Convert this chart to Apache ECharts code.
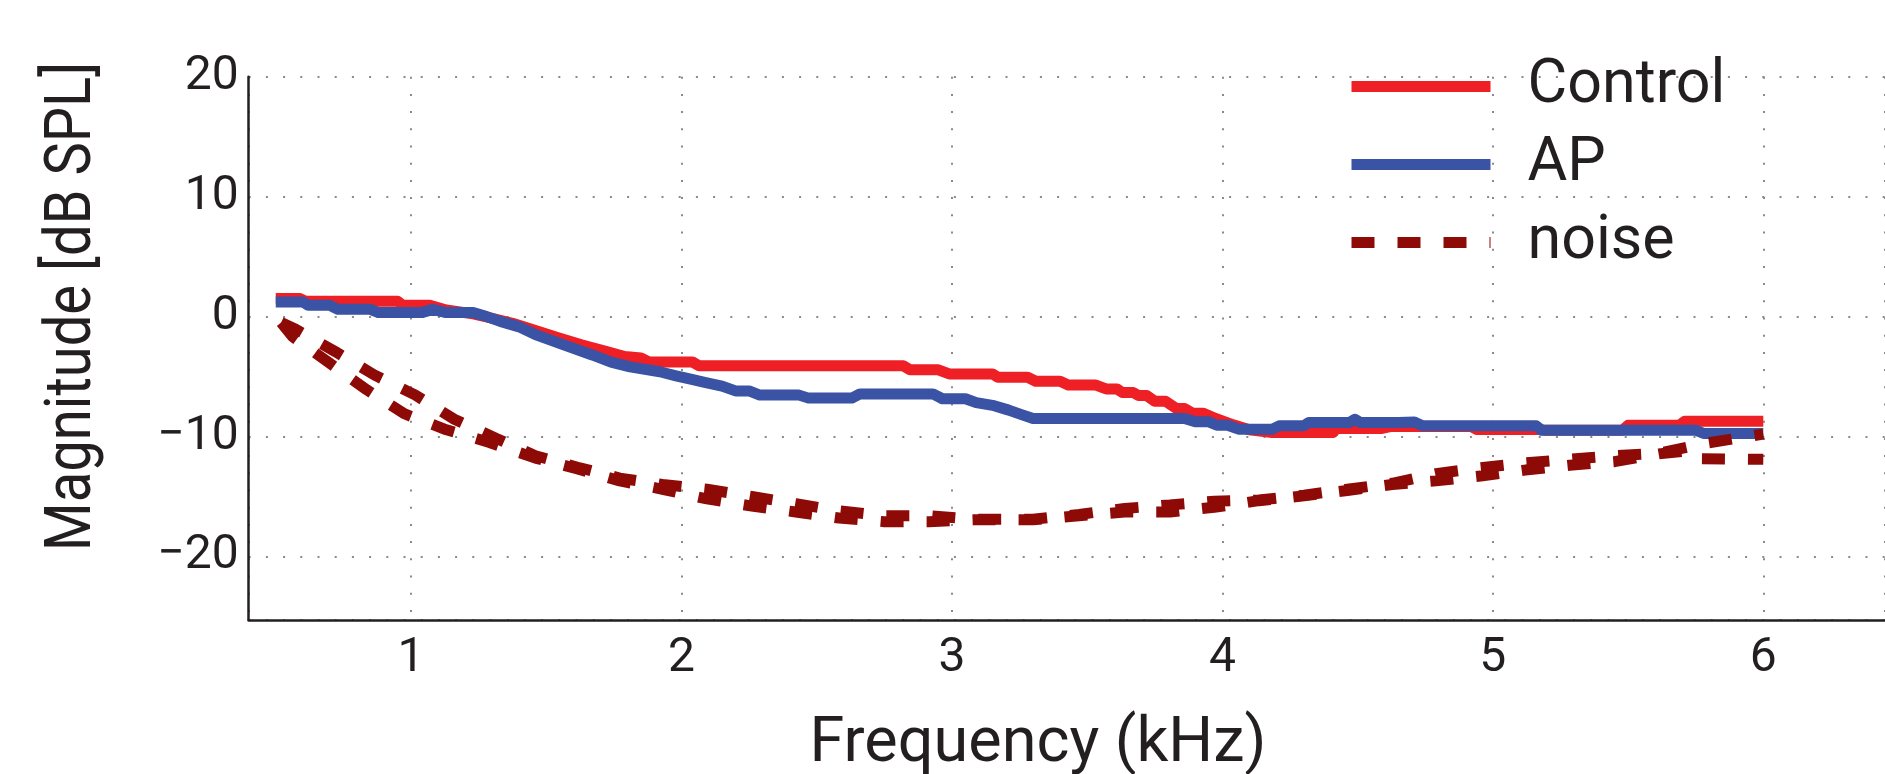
<!DOCTYPE html>
<html>
<head>
<meta charset="utf-8">
<script src="https://cdn.jsdelivr.net/npm/echarts@6/dist/echarts.min.js"></script>
<style>
html,body{margin:0;padding:0;background:#fff;}
#chart{width:1885px;height:774px;}
</style>
</head>
<body>
<div id="chart"></div>
<script>
// ---- data ----
const xTicks = [1, 2, 3, 4, 5, 6];
const yTicks = [-20, -10, 0, 10, 20];
const seriesNames = ['Control', 'AP', 'noise'];

const controlFreq = [0.50,0.59,0.61,0.95,0.97,1.07,1.13,1.23,1.30,1.375,1.46,1.55,1.63,1.72,1.79,1.85,1.88,2.04,2.065,2.82,2.845,2.95,2.99,3.15,3.17,3.28,3.31,3.40,3.43,3.53,3.57,3.61,3.63,3.67,3.69,3.72,3.75,3.79,3.83,3.86,3.89,3.93,3.975,4.04,4.10,4.185,4.41,4.42,4.59,4.62,4.92,4.94,5.17,5.19,5.48,5.50,5.69,5.71,6.0];
const controlMag  = [1.5,1.5,1.28,1.28,0.94,0.94,0.55,0.22,-0.14,-0.56,-1.17,-1.8,-2.36,-2.9,-3.33,-3.45,-3.78,-3.78,-4.1,-4.1,-4.44,-4.44,-4.78,-4.78,-5.06,-5.06,-5.39,-5.39,-5.7,-5.7,-6.03,-6.03,-6.33,-6.33,-6.58,-6.58,-7.06,-7.06,-7.67,-7.67,-8.06,-8.06,-8.5,-9.03,-9.44,-9.67,-9.67,-9.33,-9.33,-9.17,-9.17,-9.42,-9.42,-9.47,-9.47,-9.06,-9.06,-8.72,-8.72];

const apFreq = [0.50,0.60,0.62,0.70,0.73,0.85,0.88,1.04,1.08,1.13,1.23,1.28,1.33,1.40,1.46,1.57,1.67,1.74,1.81,1.92,1.98,2.03,2.09,2.15,2.20,2.25,2.29,2.435,2.47,2.63,2.66,2.93,2.965,3.05,3.09,3.15,3.21,3.26,3.30,3.86,3.90,3.95,3.98,4.02,4.06,4.185,4.21,4.30,4.32,4.47,4.49,4.51,4.65,4.71,4.74,5.16,5.18,5.75,5.78,6.0];
const apMag  = [1.22,1.22,0.94,0.94,0.6,0.6,0.33,0.33,0.6,0.33,0.33,0,-0.4,-0.86,-1.5,-2.4,-3.2,-3.8,-4.2,-4.6,-4.94,-5.2,-5.5,-5.8,-6.2,-6.2,-6.55,-6.55,-6.8,-6.8,-6.45,-6.45,-6.85,-6.85,-7.17,-7.4,-7.8,-8.2,-8.5,-8.5,-8.78,-8.78,-9.06,-9.06,-9.39,-9.39,-9.11,-9.11,-8.83,-8.83,-8.56,-8.83,-8.83,-8.8,-9.11,-9.11,-9.47,-9.47,-9.75,-9.75];

const noise1Freq = [0.52,0.574,0.72,0.864,1.015,1.16,1.314,1.46,1.616,1.772,1.93,2.094,2.26,2.423,2.583,2.75,2.916,3.08,3.30,3.47,3.639,3.806,3.97,4.135,4.302,4.462,4.628,4.79,4.955,5.12,5.284,5.45,5.614,5.777,6.0];
const noise1Mag  = [-0.5,-1.06,-2.92,-4.86,-6.53,-8.56,-10.14,-11.6,-12.56,-13.47,-14.0,-14.4,-15.0,-15.6,-16.2,-16.6,-16.6,-16.9,-16.9,-16.5,-16.0,-15.7,-15.4,-15.3,-14.9,-14.4,-13.9,-13.1,-12.6,-12.2,-11.9,-11.6,-11.4,-10.6,-9.8];

const noise2Freq = [0.52,0.562,0.70,0.836,0.975,1.131,1.29,1.46,1.616,1.772,1.93,2.094,2.26,2.423,2.583,2.75,2.916,3.08,3.30,3.47,3.639,3.806,3.97,4.135,4.302,4.462,4.628,4.79,4.955,5.12,5.284,5.45,5.614,5.72,5.76,6.0];
const noise2Mag  = [-0.5,-1.67,-3.9,-6.1,-8.1,-9.44,-10.5,-11.8,-12.7,-13.7,-14.4,-15.2,-15.8,-16.3,-16.8,-17.1,-17.1,-16.95,-16.95,-16.6,-16.3,-16.3,-15.9,-15.35,-14.95,-14.5,-14.0,-13.7,-13.3,-12.8,-12.4,-12.1,-11.45,-11.2,-11.85,-11.9];

// ---- build ----
const zip = (xs, ys) => xs.map((x, i) => [x, ys[i]]);
const FONT = 'Roboto';
const INK = '#231f20';
const RED = '#ee1f25', BLUE = '#3a53a4', DARK = '#8e0a07';
const onTick = (v, ticks) => ticks.some(t => Math.abs(t - v) < 1e-6);
const gridLine = { show: true, lineStyle: { color: '#8a8a8a', width: 2, type: [2, 15.2] } };

const chart = echarts.init(document.getElementById('chart'), null, { renderer: 'canvas' });
chart.setOption({
  animation: false,
  backgroundColor: '#ffffff',
  textStyle: { fontFamily: FONT },
  grid: { left: 248.7, right: 0, top: 76.7, bottom: 154 },
  xAxis: {
    type: 'value', min: 0.4, max: 6.45, splitNumber: 6,
    axisLine: { show: true, onZero: false, lineStyle: { color: INK, width: 2.5 } },
    axisTick: { show: false },
    axisLabel: {
      margin: 15, color: INK, fontFamily: FONT, fontSize: 48,
      showMinLabel: false, showMaxLabel: false,
      formatter: v => onTick(v, xTicks) ? String(v) : ''
    },
    splitLine: gridLine
  },
  yAxis: {
    type: 'value', min: -25.3, max: 20, splitNumber: 5,
    axisLine: { show: true, onZero: false, lineStyle: { color: INK, width: 2.5 } },
    axisTick: { show: false },
    axisLabel: {
      margin: 10, color: INK, fontFamily: FONT, fontSize: 48,
      padding: [0, 0, 13, 0],
      formatter: v => onTick(v, yTicks) ? String(v).replace('-', '\u2212') : ''
    },
    splitLine: gridLine
  },
  legend: {
    orient: 'vertical', left: 1346, top: 56, padding: 0,
    itemWidth: 139, itemHeight: 11, itemGap: 17,
    data: seriesNames,
    lineStyle: { width: 11 },
    itemStyle: { color: 'rgba(0,0,0,0)', borderWidth: 0, opacity: 0 },
    textStyle: { fontFamily: FONT, fontSize: 61, color: INK, padding: [0, 0, 10, 32] }
  },
  series: [
    { name: seriesNames[0], type: 'line', data: zip(controlFreq, controlMag), symbol: 'none',
      lineStyle: { color: RED, width: 11, join: 'round' }, itemStyle: { color: RED } },
    { name: seriesNames[1], type: 'line', data: zip(apFreq, apMag), symbol: 'none',
      lineStyle: { color: BLUE, width: 11, join: 'round' }, itemStyle: { color: BLUE } },
    { name: seriesNames[2], type: 'line', data: zip(noise1Freq, noise1Mag), symbol: 'none',
      lineStyle: { color: DARK, width: 11, type: [23, 23], cap: 'butt' }, itemStyle: { color: DARK } },
    { name: seriesNames[2], type: 'line', data: zip(noise2Freq, noise2Mag), symbol: 'none',
      lineStyle: { color: DARK, width: 11, type: [23, 23], cap: 'butt' }, itemStyle: { color: DARK } }
  ],
  graphic: [
    { type: 'text', x: 74, y: 306.5, rotation: Math.PI / 2, scaleX: 0.863,
      style: { text: 'Magnitude [dB SPL]', font: '65px Roboto', fill: INK, align: 'center', verticalAlign: 'middle' } },
    { type: 'text', x: 1038, y: 745,
      style: { text: 'Frequency (kHz)', font: '63px Roboto', fill: INK, align: 'center', verticalAlign: 'middle' } }
  ]
});
</script>
</body>
</html>
